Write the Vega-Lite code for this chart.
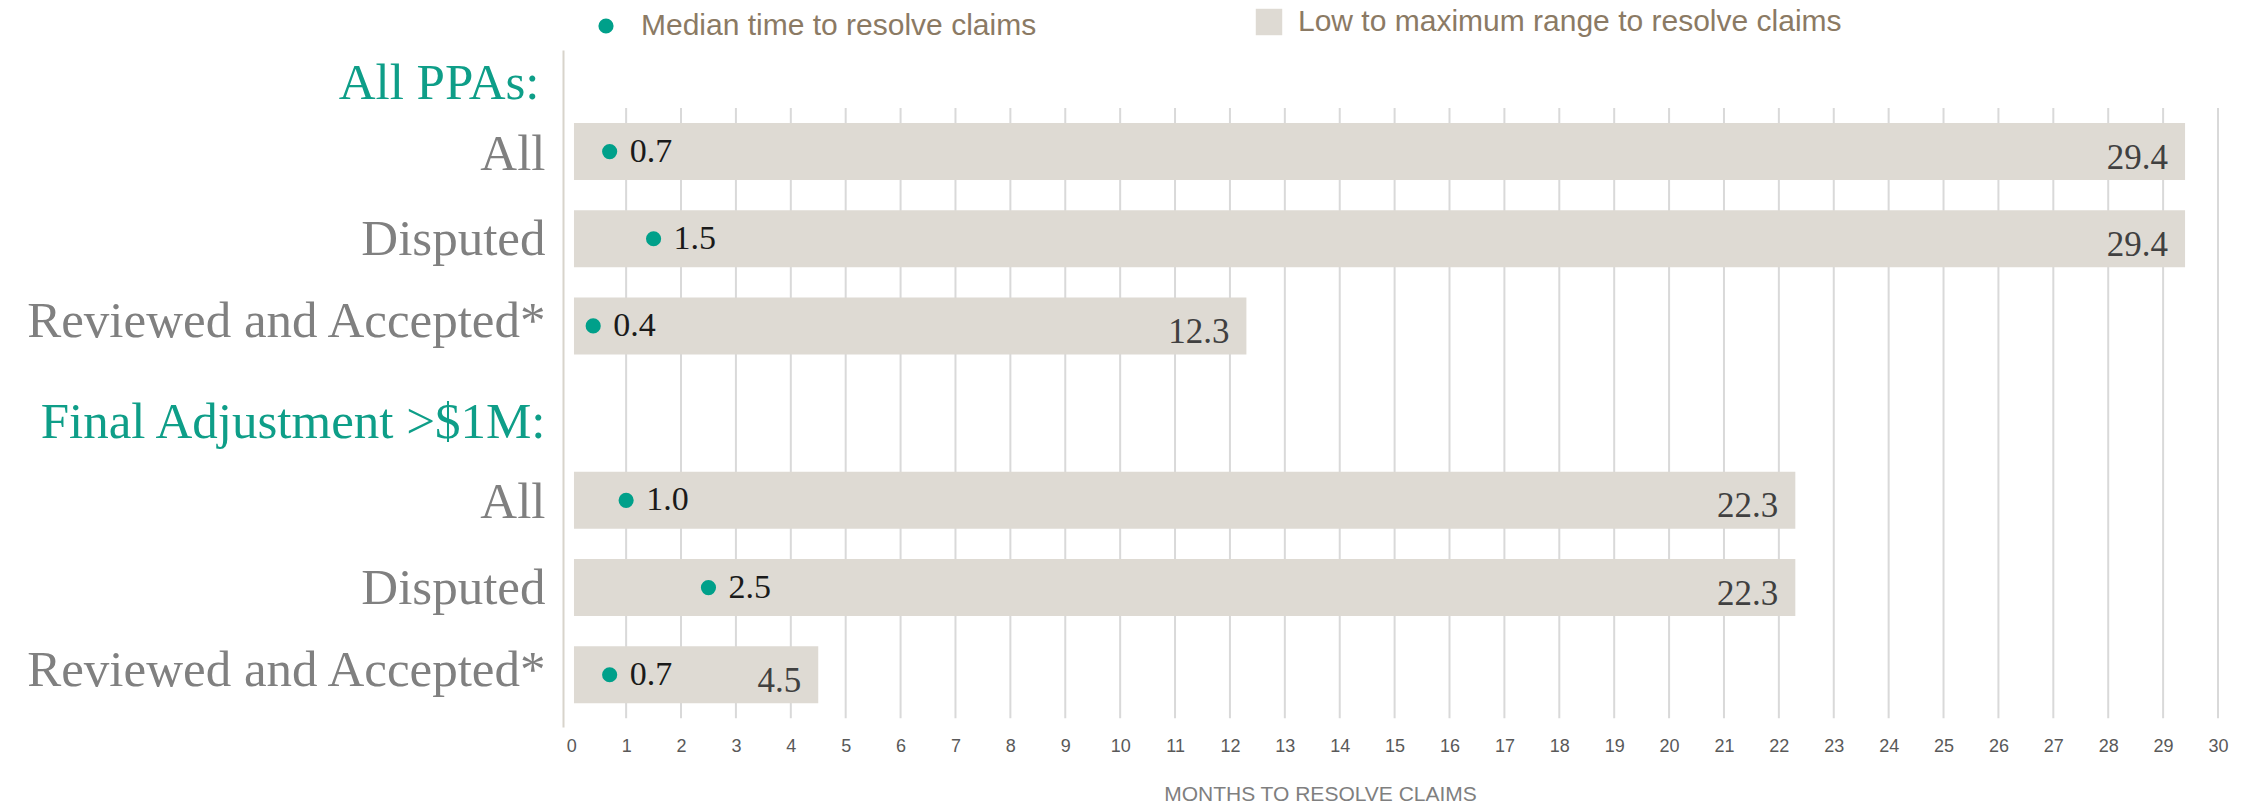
{
  "$schema": "https://vega.github.io/schema/vega-lite/v6.json",
  "autosize": "none",
  "width": 1655,
  "height": 677,
  "padding": {"left": 563, "top": 50, "right": 37, "bottom": 76},
  "background": "white",
  "config": {
    "view": {"stroke": null},
    "legend": {
      "labelFont": "Liberation Sans",
      "labelFontSize": 30,
      "labelColor": "#8b7a64",
      "labelLimit": 0,
      "padding": 0,
      "title": null
    }
  },
  "datasets": {
    "claims": [
      {"row": "All", "low": 0.05, "median": 0.7, "max": 29.4},
      {"row": "Disputed", "low": 0.05, "median": 1.5, "max": 29.4},
      {"row": "Reviewed and Accepted*", "low": 0.05, "median": 0.4, "max": 12.3},
      {"row": "All ", "low": 0.05, "median": 1.0, "max": 22.3},
      {"row": "Disputed ", "low": 0.05, "median": 2.5, "max": 22.3},
      {"row": "Reviewed and Accepted* ", "low": 0.05, "median": 0.7, "max": 4.5}
    ],
    "months": [
      {"m": 1}, {"m": 2}, {"m": 3}, {"m": 4}, {"m": 5}, {"m": 6}, {"m": 7}, {"m": 8}, {"m": 9}, {"m": 10},
      {"m": 11}, {"m": 12}, {"m": 13}, {"m": 14}, {"m": 15}, {"m": 16}, {"m": 17}, {"m": 18}, {"m": 19}, {"m": 20},
      {"m": 21}, {"m": 22}, {"m": 23}, {"m": 24}, {"m": 25}, {"m": 26}, {"m": 27}, {"m": 28}, {"m": 29}, {"m": 30}
    ]
  },
  "encoding": {
    "y": {
      "field": "row",
      "type": "nominal",
      "sort": null,
      "scale": {
        "type": "band",
        "domain": ["All", "Disputed", "Reviewed and Accepted*", "Final Adjustment >$1M:", "All ", "Disputed ", "Reviewed and Accepted* "],
        "paddingInner": 0,
        "paddingOuter": 0.382,
        "align": 0.87
      },
      "axis": {
        "title": "All PPAs:",
        "titleAngle": 0,
        "titleAlign": "right",
        "titleBaseline": "alphabetic",
        "titleX": -24,
        "titleY": 48,
        "titleFont": "Liberation Serif",
        "titleFontSize": 51,
        "titleFontWeight": "normal",
        "titleColor": "#0e9e88",
        "labelExpr": "trim(datum.label)",
        "labelFont": "Liberation Serif",
        "labelFontSize": 51,
        "labelBaseline": "alphabetic",
        "labelPadding": 18,
        "labelLimit": 0,
        "labelColor": {"condition": {"test": "datum.value === 'Final Adjustment >$1M:'", "value": "#0e9e88"}, "value": "#808080"},
        "labelOffset": {
          "condition": [
            {"test": "datum.value === 'Final Adjustment >$1M:'", "value": 25},
            {"test": "indexof(datum.value, 'Reviewed') === 0", "value": 11},
            {"test": "indexof(datum.value, 'Disputed') === 0", "value": 16}
          ],
          "value": 18
        },
        "ticks": false,
        "grid": false,
        "domain": true,
        "domainColor": "#d8d4cb",
        "domainWidth": 2
      }
    }
  },
  "layer": [
    {
      "data": {"name": "months"},
      "mark": {"type": "rule", "color": "#d9d9d9", "strokeWidth": 2},
      "encoding": {
        "x": {"field": "m", "type": "quantitative"},
        "y": {"datum": "All", "type": "nominal", "bandPosition": 0},
        "y2": {"datum": "Reviewed and Accepted* ", "bandPosition": 1}
      }
    },
    {
      "data": {"name": "claims"},
      "mark": {"type": "bar", "height": {"band": 0.654}},
      "encoding": {
        "x": {
          "field": "low",
          "type": "quantitative",
          "scale": {"domain": [-0.15, 30], "nice": false, "zero": false},
          "axis": {
            "values": [0, 1, 2, 3, 4, 5, 6, 7, 8, 9, 10, 11, 12, 13, 14, 15, 16, 17, 18, 19, 20, 21, 22, 23, 24, 25, 26, 27, 28, 29, 30],
            "grid": false,
            "ticks": false,
            "domain": false,
            "labelFont": "Liberation Sans",
            "labelFontSize": 18,
            "labelColor": "#595959",
            "labelPadding": 10,
            "labelFlush": false,
            "labelOverlap": false,
            "title": "MONTHS TO RESOLVE CLAIMS",
            "titleFont": "Liberation Sans",
            "titleFontSize": 21,
            "titleFontWeight": "normal",
            "titleColor": "#7f7f7f",
            "titleX": 757,
            "titleY": 73,
            "titleAlign": "center",
            "titleBaseline": "alphabetic"
          }
        },
        "x2": {"field": "max"},
        "fill": {
          "datum": "Low to maximum range to resolve claims",
          "type": "nominal",
          "scale": {"range": ["#dedad3"]},
          "legend": {
            "orient": "none",
            "legendX": 691,
            "legendY": -43,
            "symbolType": "square",
            "symbolSize": 700,
            "symbolStrokeWidth": 0,
            "labelOffset": 14
          }
        }
      }
    },
    {
      "data": {"name": "claims"},
      "mark": {"type": "circle", "size": 230, "opacity": 1},
      "encoding": {
        "x": {"field": "median", "type": "quantitative"},
        "color": {
          "datum": "Median time to resolve claims",
          "type": "nominal",
          "scale": {"range": ["#00a08a"]},
          "legend": {
            "orient": "none",
            "legendX": 28,
            "legendY": -39,
            "symbolType": "circle",
            "symbolSize": 230,
            "symbolStrokeWidth": 0,
            "labelOffset": 20
          }
        }
      }
    },
    {
      "data": {"name": "claims"},
      "mark": {"type": "text", "align": "left", "baseline": "alphabetic", "dx": 20, "dy": 10, "font": "Liberation Serif", "fontSize": 34, "color": "#1a1a1a"},
      "encoding": {
        "x": {"field": "median", "type": "quantitative"},
        "text": {"field": "median", "type": "quantitative", "format": ".1f"}
      }
    },
    {
      "data": {"name": "claims"},
      "mark": {"type": "text", "align": "right", "baseline": "alphabetic", "dx": -17, "dy": 17, "font": "Liberation Serif", "fontSize": 35, "color": "#404040"},
      "encoding": {
        "x": {"field": "max", "type": "quantitative"},
        "text": {"field": "max", "type": "quantitative", "format": ".1f"}
      }
    }
  ]
}
